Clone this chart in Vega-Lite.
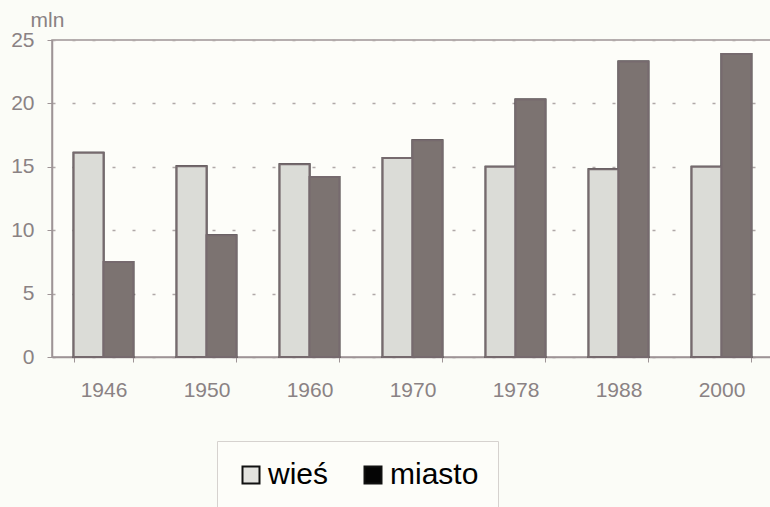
{
  "$schema": "https://vega.github.io/schema/vega-lite/v6.json",
  "width": 721,
  "height": 317,
  "autosize": {"type": "none"},
  "padding": {"left": 52, "top": 40, "right": 0, "bottom": 150},
  "background": "#fbfcf7",
  "config": {
    "font": "Liberation Sans",
    "view": {"stroke": "#9e9496", "strokeWidth": 1.5, "fill": "#fdfdf9"}
  },
  "data": {
    "values": [
      {"rok": "1946", "grupa": "wieś", "mln": 16.1},
      {"rok": "1946", "grupa": "miasto", "mln": 7.5},
      {"rok": "1950", "grupa": "wieś", "mln": 15.05},
      {"rok": "1950", "grupa": "miasto", "mln": 9.6},
      {"rok": "1960", "grupa": "wieś", "mln": 15.2},
      {"rok": "1960", "grupa": "miasto", "mln": 14.2},
      {"rok": "1970", "grupa": "wieś", "mln": 15.7},
      {"rok": "1970", "grupa": "miasto", "mln": 17.1},
      {"rok": "1978", "grupa": "wieś", "mln": 15.0},
      {"rok": "1978", "grupa": "miasto", "mln": 20.3},
      {"rok": "1988", "grupa": "wieś", "mln": 14.8},
      {"rok": "1988", "grupa": "miasto", "mln": 23.3},
      {"rok": "2000", "grupa": "wieś", "mln": 15.0},
      {"rok": "2000", "grupa": "miasto", "mln": 23.9}
    ]
  },
  "encoding": {
    "x": {
      "field": "rok",
      "type": "nominal",
      "sort": null,
      "scale": {"paddingInner": 0.42, "paddingOuter": 0.21},
      "axis": {
        "title": null,
        "labelAngle": 0,
        "labelFontSize": 21,
        "labelColor": "#8a8284",
        "labelPadding": 17,
        "domainColor": "#9e9496",
        "domainWidth": 1.5,
        "tickBand": "extent",
        "tickColor": "#9e9496",
        "tickSize": 5
      }
    },
    "xOffset": {"field": "grupa", "type": "nominal", "sort": ["wieś", "miasto"], "scale": {"paddingInner": 0, "paddingOuter": 0}},
    "y": {
      "field": "mln",
      "type": "quantitative",
      "scale": {"domain": [0, 25], "nice": false},
      "axis": {
        "values": [0, 5, 10, 15, 20, 25],
        "title": "mln",
        "titleAngle": 0,
        "titleAlign": "left",
        "titleBaseline": "alphabetic",
        "titleX": -22,
        "titleY": -14,
        "titleFontSize": 21,
        "titleFontWeight": "normal",
        "titleColor": "#8a8284",
        "labelFontSize": 21,
        "labelColor": "#8a8284",
        "labelPadding": 13,
        "domainColor": "#9e9496",
        "domainWidth": 1.5,
        "tickColor": "#9e9496",
        "tickSize": 5,
        "grid": true,
        "gridColor": "#b0a8a8",
        "gridDash": [3, 17],
        "gridWidth": 1.5
      }
    }
  },
  "layer": [
    {
      "mark": {"type": "bar", "strokeWidth": 2, "stroke": "#111111"},
      "encoding": {
        "color": {
          "field": "grupa",
          "type": "nominal",
          "sort": ["wieś", "miasto"],
          "scale": {"domain": ["wieś", "miasto"], "range": ["#e2e2de", "#050505"]},
          "legend": {
            "title": null,
            "orient": "none",
            "direction": "horizontal",
            "legendX": 165,
            "legendY": 401,
            "padding": 19,
            "fillColor": "#fdfdf9",
            "strokeColor": "#d6d2cf",
            "symbolType": "square",
            "symbolSize": 289,
            "symbolStrokeWidth": 2,
            "symbolStrokeColor": "#111111",
            "labelFontSize": 30,
            "labelColor": "#000000",
            "labelOffset": 2,
            "columnPadding": 29
          }
        }
      }
    },
    {
      "mark": {"type": "bar", "strokeWidth": 2, "stroke": "#766a6e"},
      "encoding": {
        "fill": {
          "field": "grupa",
          "type": "nominal",
          "scale": {"domain": ["wieś", "miasto"], "range": ["#dbdcd7", "#7c7371"]},
          "legend": null
        }
      }
    }
  ]
}
